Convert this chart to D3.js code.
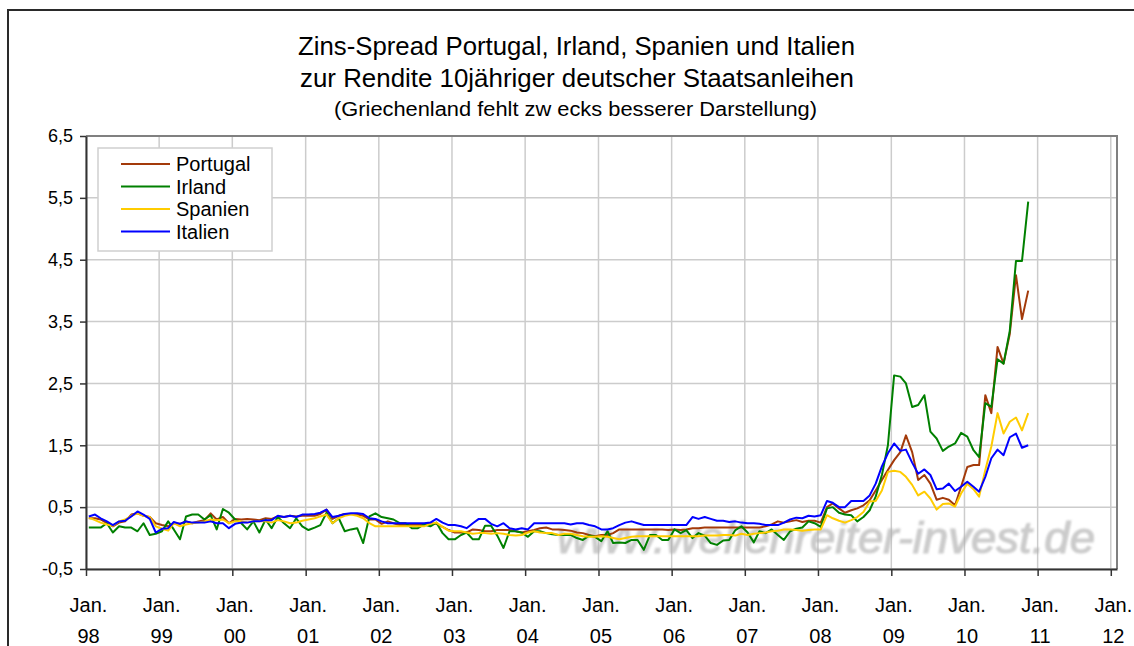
<!DOCTYPE html>
<html>
<head>
<meta charset="utf-8">
<script src="https://cdn.jsdelivr.net/npm/d3@7"></script>
<style>
body { margin:0; background:#fff; }
svg { display:block; font-family:"Liberation Sans", Arial, sans-serif; }
</style>
</head>
<body>
<div id="chart"></div>
<script>
// monthly spreads vs. 10y Bund, Jan 98 .. Nov 10
const portugal = [
0.32,0.32,0.30,0.24,0.19,0.25,0.27,0.38,0.40,0.36,
0.34,0.24,0.21,0.19,0.24,0.23,0.27,0.24,0.27,0.29,
0.40,0.30,0.34,0.24,0.31,0.30,0.31,0.30,0.29,0.32,
0.31,0.35,0.34,0.36,0.35,0.36,0.36,0.36,0.39,0.46,
0.31,0.36,0.39,0.39,0.38,0.36,0.30,0.30,0.23,0.27,
0.24,0.21,0.21,0.21,0.21,0.21,0.24,0.23,0.18,0.13,
0.09,0.09,0.09,0.14,0.13,0.11,0.11,0.13,0.13,0.13,
0.11,0.09,0.11,0.13,0.16,0.17,0.14,0.14,0.13,0.12,
0.09,0.08,0.05,0.03,0.05,0.05,0.08,0.14,0.14,0.14,
0.14,0.14,0.14,0.14,0.14,0.13,0.14,0.13,0.14,0.16,
0.16,0.17,0.17,0.17,0.17,0.17,0.17,0.17,0.17,0.17,
0.17,0.19,0.22,0.27,0.25,0.27,0.29,0.26,0.28,0.28,
0.25,0.50,0.56,0.48,0.41,0.45,0.48,0.53,0.61,0.77,
0.94,1.10,1.26,1.39,1.66,1.39,0.94,1.02,0.88,0.62,
0.65,0.62,0.53,0.83,1.15,1.18,1.18,2.31,2.02,3.09,
2.82,3.30,4.25,3.54,4.00]
const irland = [
0.17,0.17,0.17,0.24,0.09,0.19,0.17,0.17,0.11,0.24,
0.05,0.07,0.11,0.27,0.14,-0.02,0.35,0.38,0.38,0.30,
0.37,0.14,0.47,0.41,0.30,0.24,0.14,0.27,0.09,0.30,
0.16,0.34,0.24,0.16,0.32,0.19,0.13,0.17,0.21,0.41,
0.24,0.32,0.11,0.14,0.16,-0.08,0.35,0.40,0.34,0.32,
0.30,0.24,0.24,0.16,0.16,0.22,0.19,0.25,0.08,-0.02,
-0.02,0.05,0.09,-0.02,-0.02,0.20,0.20,0.04,-0.16,0.11,
0.11,0.09,0.02,0.11,0.11,0.08,0.06,0.05,0.05,0.05,
0.00,-0.03,0.04,0.02,-0.05,0.11,-0.08,-0.07,-0.08,-0.03,
-0.03,-0.19,0.05,0.05,-0.03,-0.03,0.14,0.08,0.13,0.00,
0.08,0.04,-0.08,-0.11,-0.04,-0.03,0.13,0.19,0.09,-0.07,
0.11,0.08,0.14,0.05,-0.03,0.11,0.15,0.17,0.27,0.24,
0.18,0.48,0.50,0.41,0.38,0.37,0.27,0.34,0.45,0.67,
1.02,1.50,2.63,2.61,2.50,2.12,2.15,2.31,1.72,1.61,
1.41,1.48,1.53,1.70,1.64,1.42,1.31,2.18,2.12,2.89,
2.82,3.35,4.48,4.48,5.44]
const spanien = [
0.33,0.29,0.25,0.22,0.20,0.27,0.30,0.36,0.40,0.36,
0.34,0.19,0.15,0.12,0.24,0.19,0.22,0.24,0.25,0.27,
0.30,0.29,0.30,0.24,0.27,0.27,0.25,0.27,0.27,0.27,
0.25,0.29,0.27,0.24,0.25,0.28,0.30,0.32,0.35,0.38,
0.24,0.32,0.36,0.38,0.36,0.32,0.24,0.19,0.19,0.19,
0.19,0.19,0.19,0.19,0.19,0.19,0.23,0.25,0.18,0.12,
0.11,0.11,0.09,0.07,0.08,0.08,0.07,0.08,0.07,0.05,
0.04,0.05,0.09,0.11,0.09,0.08,0.08,0.05,0.07,0.07,
0.05,0.03,0.02,0.02,0.03,0.02,0.00,-0.02,0.00,0.02,
0.03,0.03,0.03,0.03,0.03,0.03,0.03,0.03,0.03,0.03,
0.03,0.04,0.04,0.04,0.05,0.05,0.04,0.07,0.05,0.07,
0.08,0.09,0.11,0.12,0.14,0.14,0.13,0.12,0.13,0.14,
0.14,0.37,0.32,0.28,0.25,0.29,0.34,0.42,0.59,0.60,
0.77,1.07,1.09,1.07,0.99,0.86,0.69,0.75,0.64,0.46,
0.55,0.56,0.51,0.72,0.88,0.79,0.67,1.10,1.48,2.02,
1.69,1.88,1.95,1.74,2.02]
const italien = [
0.35,0.38,0.32,0.27,0.21,0.27,0.28,0.35,0.43,0.38,
0.31,0.09,0.15,0.16,0.26,0.23,0.27,0.25,0.25,0.25,
0.27,0.24,0.24,0.16,0.23,0.25,0.25,0.27,0.27,0.29,
0.29,0.36,0.34,0.36,0.34,0.38,0.38,0.39,0.41,0.46,
0.34,0.36,0.39,0.40,0.40,0.39,0.32,0.31,0.27,0.24,
0.24,0.24,0.24,0.24,0.24,0.24,0.25,0.31,0.25,0.21,
0.21,0.19,0.16,0.24,0.31,0.31,0.23,0.19,0.24,0.16,
0.14,0.16,0.14,0.24,0.24,0.24,0.24,0.24,0.24,0.22,
0.24,0.24,0.21,0.19,0.14,0.14,0.16,0.21,0.25,0.27,
0.24,0.21,0.21,0.21,0.21,0.21,0.21,0.21,0.21,0.34,
0.31,0.34,0.31,0.28,0.28,0.26,0.27,0.25,0.24,0.24,
0.23,0.21,0.21,0.21,0.25,0.30,0.33,0.32,0.36,0.35,
0.37,0.60,0.57,0.50,0.50,0.60,0.60,0.60,0.69,0.88,
1.16,1.37,1.53,1.41,1.43,1.22,1.04,1.11,1.02,0.79,
0.80,0.88,0.76,0.83,0.91,0.83,0.75,0.99,1.29,1.43,
1.34,1.63,1.69,1.46,1.50]

const seriesNames = ["Portugal","Irland","Spanien","Italien"]
const seriesColors = ["#A33A0A","#008000","#FFCC00","#0000FF"]
const yTicks = [-0.5,0.5,1.5,2.5,3.5,4.5,5.5,6.5]
const xTickYears = d3.range(1998, 2013)
const titleLines = [
  "Zins-Spread Portugal, Irland, Spanien und Italien",
  "zur Rendite 10jähriger deutscher Staatsanleihen",
  "(Griechenland fehlt zw ecks besserer Darstellung)"
]

const width = 1134
const height = 646
const margin = {top:136, left:86, right:17, bottom:77}

const months = portugal.map((d,i)=>new Date(1998, i, 15))
const data = [portugal, irland, spanien, italien]

const svg = d3.select('#chart').append('svg')
  .attr('width', width).attr('height', height)

svg.append('rect').attr('width',width).attr('height',height).attr('fill','#fff')
// outer chart frame
svg.append('rect')
  .attr('x',8).attr('y',10).attr('width',width+20).attr('height',height+20)
  .attr('fill','none').attr('stroke','#2a2a2a').attr('stroke-width',2)

const xScale = d3.scaleTime()
  .domain([new Date(1998,0,1), new Date(2012,1,1)])
  .range([margin.left, width-margin.right])
const yScale = d3.scaleLinear()
  .domain([-0.5, 6.5])
  .range([height-margin.bottom, margin.top])

const fmt = v => (v<0?"-":"") + Math.abs(v).toFixed(1).replace('.',',')

// grid
const grid = svg.append('g')
grid.selectAll('.hg').data(yTicks).enter().append('line')
  .attr('x1',margin.left).attr('x2',width-margin.right)
  .attr('y1',d=>yScale(d)).attr('y2',d=>yScale(d))
  .attr('stroke','#cccccc').attr('stroke-width',1.5)
grid.selectAll('.vg').data(xTickYears).enter().append('line')
  .attr('x1',d=>xScale(new Date(d,0,1))).attr('x2',d=>xScale(new Date(d,0,1)))
  .attr('y1',margin.top).attr('y2',height-margin.bottom)
  .attr('stroke','#cccccc').attr('stroke-width',1.5)

// plot frame (top/right)
svg.append('path')
  .attr('d',`M${margin.left},${margin.top}H${width-margin.right}V${height-margin.bottom}`)
  .attr('fill','none').attr('stroke','#808080').attr('stroke-width',2)

// watermark
const defs = svg.append('defs')
defs.append('filter').attr('id','soft').append('feGaussianBlur').attr('stdDeviation',1)
svg.append('text')
  .text("www.wellenreiter-invest.de")
  .attr('x',557).attr('y',553)
  .attr('textLength',538).attr('lengthAdjust','spacingAndGlyphs')
  .attr('font-size',45).attr('font-style','italic')
  .attr('fill','#b0b0b0').attr('stroke','#b0b0b0').attr('stroke-width',1.2)
  .attr('opacity',0.65)
  .attr('filter','url(#soft)')

// axes
const yAxis = d3.axisLeft(yScale).tickValues(yTicks).tickFormat(fmt).tickSize(6).tickSizeOuter(0)
const yAxisGroup = svg.append('g')
  .attr('transform',`translate(${margin.left},0)`)
  .call(yAxis)
yAxisGroup.select('.domain').attr('stroke','#333').attr('stroke-width',2)
yAxisGroup.selectAll('.tick line').attr('stroke','#333').attr('stroke-width',1.5)
yAxisGroup.selectAll('.tick text').attr('font-size',18).attr('fill','#000')
  .attr('font-family','"Liberation Sans", Arial, sans-serif').attr('x',-13)

const xAxis = d3.axisBottom(xScale)
  .tickValues(xTickYears.map(y=>new Date(y,0,1)))
  .tickFormat('').tickSize(7).tickSizeOuter(0)
const xAxisGroup = svg.append('g')
  .attr('transform',`translate(0,${height-margin.bottom})`)
  .call(xAxis)
xAxisGroup.select('.domain').attr('stroke','#333').attr('stroke-width',2)
xAxisGroup.selectAll('.tick line').attr('stroke','#333').attr('stroke-width',1.5)
xAxisGroup.selectAll('.tick').each(function(d){
  const t = d3.select(this).append('text')
    .attr('fill','#000').attr('font-size',20)
    .attr('font-family','"Liberation Sans", Arial, sans-serif')
    .attr('text-anchor','middle')
  t.append('tspan').attr('x',2).attr('y',43).text('Jan.')
  t.append('tspan').attr('x',2).attr('y',74).text(String(d.getFullYear()).slice(2))
})

// series
const line = d3.line()
  .x((d,i)=>xScale(months[i]))
  .y(d=>yScale(d))
svg.append('g').selectAll('path').data(data).enter().append('path')
  .attr('d',line)
  .attr('fill','none')
  .attr('stroke',(d,i)=>seriesColors[i])
  .attr('stroke-width',2)
  .attr('stroke-linejoin','round')

// legend
const legend = svg.append('g').attr('transform','translate(98,148)')
legend.append('rect').attr('width',174).attr('height',103)
  .attr('fill','#fff').attr('stroke','#cfcfcf').attr('stroke-width',1.5)
const items = legend.selectAll('.item').data(seriesNames).enter().append('g')
  .attr('transform',(d,i)=>`translate(0,${16+i*22.5})`)
items.append('line').attr('x1',23).attr('x2',72)
  .attr('stroke',(d,i)=>seriesColors[i]).attr('stroke-width',2)
items.append('text').text(d=>d).attr('x',78).attr('y',7)
  .attr('font-size',20).attr('fill','#000')

// title
const titleX = [298, 300, 334]
const titleW = [557, 554, 483]
svg.append('g').selectAll('text').data(titleLines).enter().append('text')
  .text(d=>d)
  .attr('x',(d,i)=>titleX[i])
  .attr('y',(d,i)=>[55,87,116][i])
  .attr('textLength',(d,i)=>titleW[i])
  .attr('lengthAdjust','spacingAndGlyphs')
  .attr('font-size',(d,i)=>i<2?26:20)
  .attr('fill','#000')
</script>
</body>
</html>
